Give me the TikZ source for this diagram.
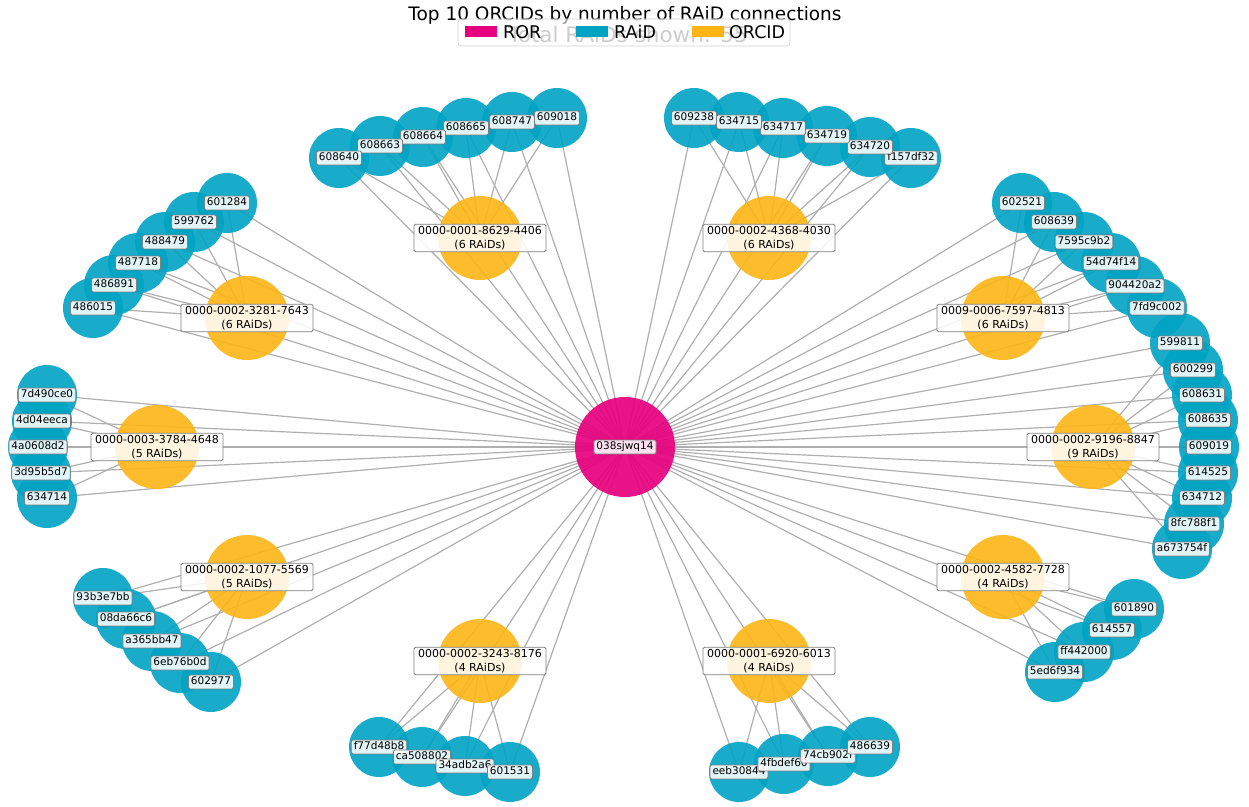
\documentclass[tikz,border=0pt]{standalone}
\usepackage{fontspec}
\setmainfont{DejaVu Sans}
\pgfdeclarelayer{edgelayer}
\pgfsetlayers{edgelayer,main}
\definecolor{rorc}{HTML}{E6007E}
\definecolor{raidc}{HTML}{00A3C4}
\definecolor{orcidc}{HTML}{FDB515}
\definecolor{edgec}{RGB}{175,175,175}
\definecolor{boxc}{RGB}{128,128,128}
\definecolor{subc}{RGB}{130,130,130}
\begin{document}
\begin{tikzpicture}[x=1bp,y=-1bp,
  rornode/.style={circle,fill=rorc,fill opacity=0.92,minimum size=100bp,inner sep=0pt},
  orcidnode/.style={circle,fill=orcidc,fill opacity=0.9,minimum size=84bp,inner sep=0pt},
  raidnode/.style={circle,fill=raidc,fill opacity=0.9,minimum size=60bp,inner sep=0pt},
  edge/.style={draw=edgec,line width=1.2bp},
  rlab/.style={draw=boxc,line width=0.8bp,fill=white,fill opacity=0.88,text opacity=1,
    rounded corners=1.5bp,inner xsep=2.5bp,inner ysep=2bp,
    font=\fontsize{10.5bp}{12bp}\selectfont,text height=0.76em,text depth=0.24em},
  olab/.style={draw=boxc,line width=0.8bp,fill=white,fill opacity=0.85,text opacity=1,
    rounded corners=1.5bp,inner xsep=4bp,inner ysep=2.2bp,align=center,
    font=\fontsize{11bp}{13.5bp}\selectfont},
  legpatch/.style={minimum width=32bp,minimum height=11bp,inner sep=0pt},
  legtext/.style={anchor=west,inner sep=0pt,font=\fontsize{17.5bp}{20bp}\selectfont},
]
\useasboundingbox (0,0) rectangle (1249,807);

% title and subtitle
\node[anchor=base,inner sep=0pt,font=\fontsize{18.5bp}{22bp}\selectfont] (title) at (625,21) {Top 10 ORCIDs by number of RAiD connections};
\node[anchor=base,inner sep=0pt,text=subc,font=\fontsize{21.5bp}{24bp}\selectfont] (subtitle) at (628,43) {Total RAiDs shown: 55};

% legend
\node[draw=gray!35,line width=0.8bp,fill=white,fill opacity=0.6,rounded corners=3bp,minimum width=332bp,minimum height=27bp,inner sep=0pt] (legend) at (624,32.5) {};
\node[legpatch,fill=rorc] (lgror) at (481,32) {};
\node[legtext] (lgrortext) at (503,32) {ROR};
\node[legpatch,fill=raidc] (lgraid) at (592,32) {};
\node[legtext] (lgraidtext) at (614,32) {RAiD};
\node[legpatch,fill=orcidc] (lgorcid) at (708,32) {};
\node[legtext] (lgorcidtext) at (729,32) {ORCID};

% ROR and ORCID nodes
\node[rornode] (ror) at (625,447) {};
\foreach \n/\x/\y in {o1/480/238,o2/769/238,o3/247/318,o4/1003/318,o5/157/447,
  o6/1093/447,o7/247/577,o8/1003/577,o9/480/661,o10/769/661}
  \node[orcidnode] (\n) at (\x,\y) {};

% RAiD nodes with their connectors
\foreach \n/\x/\y/\o in {
  a673754f/1182/549/o6,8fc788f1/1194/524/o6,634712/1202/498/o6,614525/1208/473/o6,
  609019/1209/447/o6,608635/1208/420/o6,608631/1202/395/o6,600299/1193/370/o6,599811/1180/343/o6,
  7fd9c002/1157/308/o4,904420a2/1135/286/o4,54d74f14/1111/263/o4,7595c9b2/1084/242/o4,
  608639/1054/222/o4,602521/1022/203/o4,
  f157df32/911/158/o2,634720/870/147/o2,634719/827/136/o2,634717/783/128/o2,
  634715/739/122/o2,609238/694/118/o2,
  609018/557/118/o1,608747/512/122/o1,608665/466/128/o1,608664/423/137/o1,
  608663/380/146/o1,608640/339/158/o1,
  601284/227/203/o3,599762/194/222/o3,488479/165/242/o3,487718/138/263/o3,
  486891/114/285/o3,486015/93/308/o3,
  7d490ce0/47/395/o5,4d04eeca/42/421/o5,4a0608d2/38/447/o5,3d95b5d7/41/473/o5,634714/47/498/o5,
  93b3e7bb/103/598/o7,08da66c6/126/619/o7,a365bb47/152/641/o7,6eb76b0d/180/663/o7,602977/211/682/o7,
  f77d48b8/379/747/o9,ca508802/422/757/o9,34adb2a6/465/766/o9,601531/510/772/o9,
  eeb30844/739/772/o10,4fbdef60/784/764/o10,74cb902f/828/756/o10,486639/870/747/o10,
  5ed6f934/1055/672/o8,ff442000/1084/652/o8,614557/1112/630/o8,601890/1134/609/o8}
{
  \node[raidnode] (r\n) at (\x,\y) {};
  \begin{pgfonlayer}{edgelayer}
    \draw[edge] (ror.center) -- (r\n.center);
    \draw[edge] (\o.center) -- (r\n.center);
  \end{pgfonlayer}
}

% labels
\node[rlab] (tror) at (ror) {038sjwq14};
\foreach \n/\t in {o1/0000-0001-8629-4406\\(6 RAiDs),o2/0000-0002-4368-4030\\(6 RAiDs),
  o3/0000-0002-3281-7643\\(6 RAiDs),o4/0009-0006-7597-4813\\(6 RAiDs),
  o5/0000-0003-3784-4648\\(5 RAiDs),o6/0000-0002-9196-8847\\(9 RAiDs),
  o7/0000-0002-1077-5569\\(5 RAiDs),o8/0000-0002-4582-7728\\(4 RAiDs),
  o9/0000-0002-3243-8176\\(4 RAiDs),o10/0000-0001-6920-6013\\(4 RAiDs)}
  \node[olab] (t\n) at (\n) {\t};
\foreach \n in {a673754f,8fc788f1,634712,614525,609019,608635,608631,600299,599811,
  7fd9c002,904420a2,54d74f14,7595c9b2,608639,602521,
  f157df32,634720,634719,634717,634715,609238,
  609018,608747,608665,608664,608663,608640,
  601284,599762,488479,487718,486891,486015,
  7d490ce0,4d04eeca,4a0608d2,3d95b5d7,634714,
  93b3e7bb,08da66c6,a365bb47,6eb76b0d,602977,
  f77d48b8,ca508802,34adb2a6,601531,
  eeb30844,4fbdef60,74cb902f,486639,
  5ed6f934,ff442000,614557,601890}
  \node[rlab] (t\n) at (r\n) {\n};
\end{tikzpicture}
\end{document}
